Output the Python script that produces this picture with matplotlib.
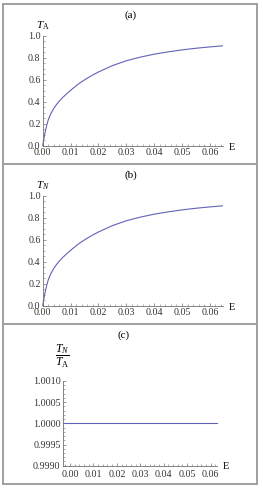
import matplotlib
matplotlib.use("Agg")
import matplotlib.pyplot as plt
from matplotlib.lines import Line2D
from matplotlib.ticker import MultipleLocator, FormatStrFormatter

plt.rcParams['font.family'] = ['Liberation Serif', 'DejaVu Serif']
plt.rcParams['mathtext.fontset'] = 'custom'
plt.rcParams['mathtext.rm'] = 'Liberation Serif'
plt.rcParams['mathtext.it'] = 'Liberation Serif:italic'

# ---- data ----
E_vals = [0, 0.00025, 0.0005, 0.00075, 0.001, 0.0015, 0.002, 0.0025, 0.003,
          0.004, 0.005, 0.006, 0.007, 0.008, 0.009, 0.010, 0.012, 0.014,
          0.016, 0.018, 0.020, 0.025, 0.030, 0.035, 0.040, 0.045, 0.050,
          0.055, 0.060, 0.0645]
TA_vals = [0, 0.04, 0.075, 0.107, 0.137, 0.19, 0.235, 0.267, 0.295,
           0.34, 0.376, 0.407, 0.434, 0.458, 0.481, 0.503, 0.545, 0.582,
           0.614, 0.643, 0.67, 0.728, 0.772, 0.805, 0.832, 0.853, 0.871,
           0.886, 0.898, 0.908]
TN_vals = list(TA_vals)
E_ratio = [-0.0031, 0.0626]
ratio_vals = [1.0, 1.0]

xticks = [0.00, 0.01, 0.02, 0.03, 0.04, 0.05, 0.06]
panel_titles = ["(a)", "(b)", "(c)"]

W, H = 263, 490
fig = plt.figure(figsize=(W / 100, H / 100), dpi=100)

def ax_px(x0, x1, ytop, ybot):
    return fig.add_axes([x0 / W, (H - ybot) / H, (x1 - x0) / W, (ybot - ytop) / H])

def ftext(x, y, s, **kw):
    fig.text(x / W, (H - y) / H, s, **kw)

AX_COL = '#707070'
LINE_COL = '#6262b8'
FS = 7.2

def style(ax, xlim, ylim, ymaj, ymin, yfmt):
    ax.set_xlim(*xlim)
    ax.set_ylim(*ylim)
    for s in ['top', 'right']:
        ax.spines[s].set_visible(False)
    for s in ['left', 'bottom']:
        ax.spines[s].set_color(AX_COL)
        ax.spines[s].set_linewidth(0.6)
    ax.set_xticks(xticks)
    ax.xaxis.set_minor_locator(MultipleLocator(0.002))
    ax.xaxis.set_major_formatter(FormatStrFormatter('%.2f'))
    ax.yaxis.set_major_locator(MultipleLocator(ymaj))
    ax.yaxis.set_minor_locator(MultipleLocator(ymin))
    ax.yaxis.set_major_formatter(FormatStrFormatter(yfmt))
    ax.tick_params(which='major', direction='in', length=2.5, width=0.5, color=AX_COL,
                   labelsize=FS, pad=1.5, labelcolor='#333333')
    ax.tick_params(which='minor', direction='in', length=1.2, width=0.4, color=AX_COL)
    ax.patch.set_alpha(0)

# panel (a)
axa = ax_px(42.7, 222.7, 35.7, 145.7)
axa.plot(E_vals, TA_vals, color=LINE_COL, lw=0.8, clip_on=False)
style(axa, (0, 0.0646), (0, 1.0), 0.2, 0.05, '%.1f')
ftext(131, 15, panel_titles[0], ha='center', va='center', fontsize=8)
ftext(43, 26, r'$T_{\mathrm{A}}$', ha='center', va='center', fontsize=8)
ftext(232, 147, 'E', ha='center', va='center', fontsize=7.5)

# panel (b)
axb = ax_px(42.7, 222.7, 195.7, 305.7)
axb.plot(E_vals, TN_vals, color=LINE_COL, lw=0.8, clip_on=False)
style(axb, (0, 0.0646), (0, 1.0), 0.2, 0.05, '%.1f')
ftext(131, 175, panel_titles[1], ha='center', va='center', fontsize=8)
ftext(43, 186, r'$T_N$', ha='center', va='center', fontsize=8)
ftext(232, 307, 'E', ha='center', va='center', fontsize=7.5)

# panel (c)
axc = ax_px(62.7, 216.7, 381, 465.7)
axc.plot(E_ratio, ratio_vals, color=LINE_COL, lw=0.8, clip_on=False)
style(axc, (-0.0031, 0.0626), (0.9990, 1.0010), 0.0005, 0.0001, '%.4f')
axc.tick_params(axis='x', which='major', pad=3)
ftext(124, 335, panel_titles[2], ha='center', va='center', fontsize=8)
ftext(62, 356, r'$\dfrac{T_N}{T_{\mathrm{A}}}$', ha='center', va='center', fontsize=8.5)
ftext(226, 466, 'E', ha='center', va='center', fontsize=7.5)

# panel frames
BC = '#a0a0a0'
lw = 1.4
def hline(y, x0=3, x1=257):
    fig.add_artist(Line2D([x0 / W, x1 / W], [(H - y) / H] * 2, color=BC, lw=lw))
def vline(x, y0=4, y1=484):
    fig.add_artist(Line2D([x / W] * 2, [(H - y0) / H, (H - y1) / H], color=BC, lw=lw))
for y in [4, 164, 324, 484]:
    hline(y)
vline(3)
vline(257)

fig.savefig('out.png', dpi=100)
